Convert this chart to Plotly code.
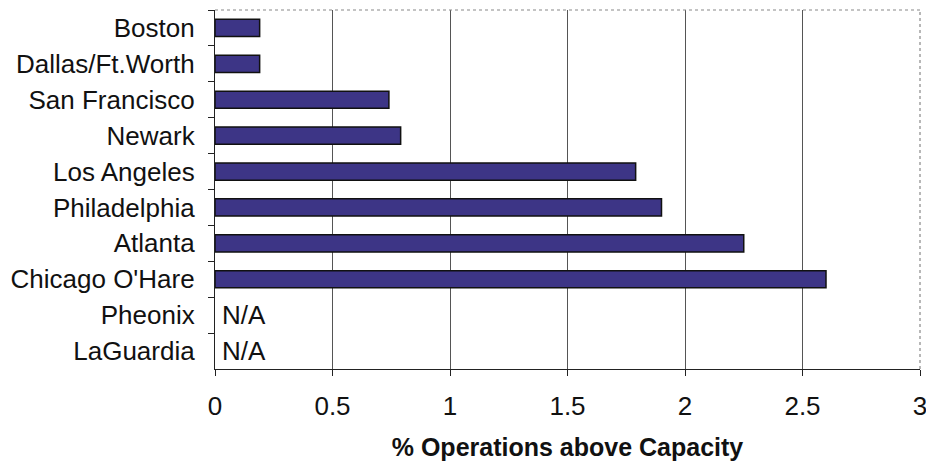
import plotly.graph_objects as go

airports = ["Boston", "Dallas/Ft.Worth", "San Francisco", "Newark", "Los Angeles",
            "Philadelphia", "Atlanta", "Chicago O'Hare", "Pheonix", "LaGuardia"]
pct_above = [0.19, 0.19, 0.74, 0.79, 1.79, 1.9, 2.25, 2.6, None, None]
na_labels = ["", "", "", "", "", "", "", "", "N/A", "N/A"]
x_ticks = [0, 0.5, 1, 1.5, 2, 2.5, 3]
x_title = "% Operations above Capacity"

font_family = "Liberation Sans, Arial, sans-serif"

fig = go.Figure()
fig.add_trace(go.Bar(
    y=airports, x=pct_above, orientation="h",
    marker=dict(color="#3d3586", line=dict(color="#111111", width=1.5)),
    hoverinfo="x+y",
))

for a, t in zip(airports, na_labels):
    if t:
        fig.add_annotation(x=0, y=a, xref="x", yref="y", text=t, showarrow=False,
                           xanchor="left", xshift=5,
                           font=dict(size=26, color="#111111", family=font_family))

# dotted top and right border
fig.add_shape(type="line", xref="paper", yref="paper", x0=0, x1=1, y0=1, y1=1,
              line=dict(color="#888888", width=1.2, dash="dot"))
fig.add_shape(type="line", xref="paper", yref="paper", x0=1, x1=1, y0=0, y1=1,
              line=dict(color="#888888", width=1.2, dash="dot"))

# page body has an 8px margin: figure starts at (8, 8)
fig.update_layout(
    width=926, height=458,
    margin=dict(l=207, r=14, t=2, b=97, autoexpand=False),
    paper_bgcolor="white", plot_bgcolor="white",
    bargap=0.52,
    showlegend=False,
    font=dict(family=font_family, size=26, color="#111111"),
    xaxis=dict(
        range=[0, 3], tickvals=x_ticks, ticktext=[str(v) for v in x_ticks],
        showgrid=True, gridcolor="#555555", gridwidth=1,
        showline=True, linecolor="#222222", linewidth=1.2,
        ticks="outside", ticklen=6, tickcolor="#222222",
        zeroline=False, automargin=False,
        tickfont=dict(size=26), ticklabelstandoff=8,
        title=dict(text="<b>" + x_title + "</b>", font=dict(size=25), standoff=18),
    ),
    yaxis=dict(
        autorange="reversed", showgrid=False,
        showline=True, linecolor="#222222", linewidth=1.2,
        ticks="outside", ticklen=6, tickcolor="#222222", tickson="boundaries",
        tickfont=dict(size=26), ticklabelstandoff=14, automargin=False,
    ),
)

fig.write_html("out.html")
